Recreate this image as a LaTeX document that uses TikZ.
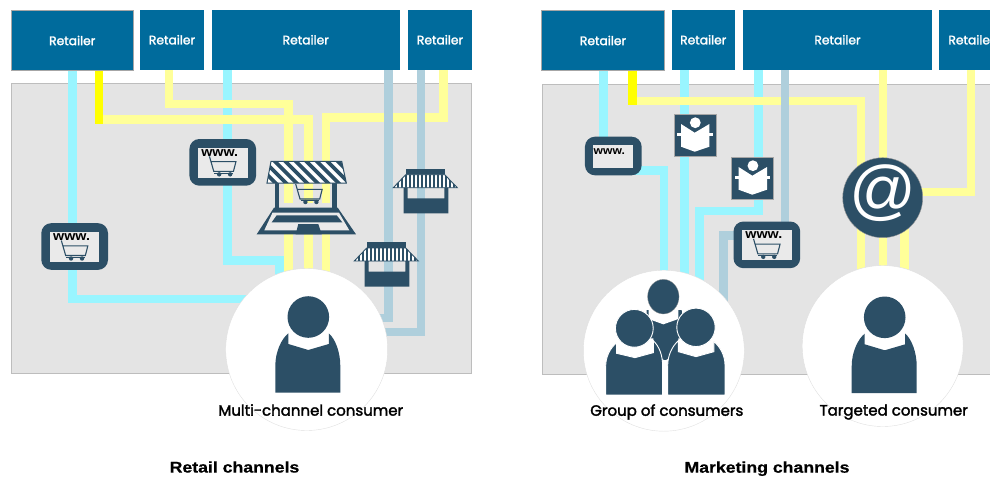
\documentclass[tikz,border=0pt]{standalone}
\usepackage{fontspec}
\setmainfont{Liberation Sans}
\newfontfamily\gothic[FakeBold=2]{Poppins}
\newfontfamily\titlefont[FakeStretch=1.14,FakeBold=0.6]{Liberation Sans Bold}
\newfontfamily\wwwfont[FakeStretch=1.1]{Liberation Sans Bold}
\definecolor{boxblue}{HTML}{006B9C}
\definecolor{darkslate}{HTML}{2C4F66}
\definecolor{panelgray}{HTML}{E4E4E4}
\definecolor{panelline}{HTML}{BDBDBD}
\definecolor{wcyan}{HTML}{99F5FF}
\definecolor{wyellow}{HTML}{FFFF99}
\definecolor{wbright}{HTML}{FFFF00}
\definecolor{wblue}{HTML}{AFCFDC}
\definecolor{screenfill}{HTML}{EAEAEA}
\pgfdeclarelayer{wires}
\pgfsetlayers{wires,main}
\tikzset{
  retailer/.style={fill=boxblue,text=white,inner sep=0,outer sep=0,font=\gothic\fontsize{12.3}{14}\selectfont},
  panel/.style={fill=panelgray,draw=panelline,line width=1pt},
  wirecyan/.style={draw=wcyan,line width=8.5pt},
  wireyellow/.style={draw=wyellow,line width=8.5pt},
  wirebright/.style={draw=wbright,line width=8.5pt},
  wireblue/.style={draw=wblue,line width=8.5pt},
  consumer/.style={circle,fill=white,draw=black!12,line width=.4pt,inner sep=0,outer sep=0},
  iconframe/.style={fill=darkslate,rounded corners=10pt,inner sep=0,outer sep=0},
  wwwtext/.style={inner sep=0,outer sep=0,text=black,font=\wwwfont\fontsize{13}{13}\selectfont},
  caption/.style={inner sep=0,text=black,font=\gothic\fontsize{15}{17}\selectfont},
  title/.style={inner sep=0,text=black,font=\titlefont\fontsize{15.5}{17}\selectfont},
  bookbox/.style={fill=darkslate,draw=black!35,line width=.4pt,inner sep=0,outer sep=0,minimum size=42pt},
}
\newcommand{\cartfig}{%
  \draw[darkslate,line width=1.1pt] (0,0) -- (4.3,15) -- (24,15) -- (26.5,5.3) -- (2,5.3);
  \draw[darkslate,line width=.8pt] (4.8,16.6) -- (23.6,16.6);
  \fill[darkslate] (9.7,18) circle[radius=2.2pt] (20.7,18) circle[radius=2.2pt];
}
\newcommand{\wwwicon}[3]{%
  \node[iconframe,minimum width=66.7pt,minimum height=46.7pt] (#1) at (#2,#3) {};
  \begin{scope}[shift={(#2,#3)}]
    \fill[screenfill] (-24.75,-14.85) rectangle (24.75,15.15);
    \node[wwwtext] (#1t) at (-3,-9.5) {www.};
    \begin{scope}[shift={(-13.3,-6)}]\cartfig\end{scope}
  \end{scope}%
}
\newcommand{\personfig}[2]{%
  \begin{scope}[shift={(#1,#2)}]
    \fill[darkslate] (-33,75.7) -- (-33,49) .. controls (-33,35) and (-27,22) .. (-20,16.3)
      -- (-20,27) -- (0,33) -- (20.5,27) -- (20.5,16.3) .. controls (27,22) and (32,35) .. (32,49)
      -- (32,75.7) -- cycle;
    \fill[darkslate] (0,0) circle[radius=20.8pt];
  \end{scope}%
}
\newcommand{\stallfig}[2]{%
  \begin{scope}[shift={(#1,#2)}]
    \fill[darkslate] (405.7,168.7) rectangle (444.7,175);
    \begin{scope}
      \clip (405.7,174.7) -- (444.7,174.7) -- (457.3,187.7) -- (393.3,187.7) -- cycle;
      \fill[white] (393,174) rectangle (458,188);
      \foreach \sx in {393.3,397.3,...,458}{\fill[darkslate] (\sx,174) rectangle ++(1.9,14);}
    \end{scope}
    \draw[darkslate,line width=.9pt] (405.7,174.7) -- (444.7,174.7) -- (457.3,187.7) -- (393.3,187.7) -- cycle;
    \fill[darkslate,even odd rule] (403.7,187.7) rectangle (448.3,213.3) (407.7,187.7) rectangle (444.3,198.3);
  \end{scope}%
}
\newcommand{\bookfig}[3]{%
  \node[bookbox] (#1) at (#2,#3) {};
  \begin{scope}[shift={(#2,#3)}]
    \fill[white] (.6,-12.3) circle[radius=5.4pt];
    \fill[white] (-13.7,-11) -- (0,-2.3) -- (14.7,-11) -- (14.7,11.7) -- (0,16.7) -- (-13.7,11.7) -- cycle;
    \fill[white] (-17.3,-2.2) rectangle (18,.9);
  \end{scope}%
}
\begin{document}
\begin{tikzpicture}[x=1pt,y=-1pt]
\useasboundingbox (0,0) rectangle (990,477);
% retailers, left
\node[retailer,minimum width=122.5pt,minimum height=60pt,draw=black!35,line width=.4pt] (la) at (72.25,40.5) {Retailer};
\node[retailer,minimum width=64pt,minimum height=59.5pt] (lb) at (172,39.75) {Retailer};
\node[retailer,minimum width=188.5pt,minimum height=59.5pt] (lc) at (305.75,39.75) {Retailer};
\node[retailer,minimum width=64pt,minimum height=59.5pt] (ld) at (440,39.75) {Retailer};
% retailers, right
\node[retailer,minimum width=123pt,minimum height=60pt,draw=black!35,line width=.4pt] (ra) at (603,40.5) {Retailer};
\node[retailer,minimum width=63.5pt,minimum height=59.5pt] (rb) at (703.25,39.75) {Retailer};
\node[retailer,minimum width=189pt,minimum height=59.5pt] (rc) at (837.5,39.75) {Retailer};
\node[retailer,minimum width=65pt,minimum height=59.5pt] (rd) at (971.5,39.75) {Retailer};
% junction points under icons and circles
\coordinate (e1) at (250,299);
\coordinate (b1) at (99,119.5);
\coordinate (e2) at (308.7,300);
\coordinate (b2) at (169,104);
\coordinate (e3) at (288.7,300);
\coordinate (b3) at (227.5,260.7);
\coordinate (e4) at (279.5,290);
\coordinate (b5) at (443.3,117.5);
\coordinate (e5) at (325.8,300);
\coordinate (e6) at (375,318);
\coordinate (e7) at (375,332);
\coordinate (e8) at (603.5,150);
\coordinate (b9) at (625,170.3);
\coordinate (e9) at (664,290);
\coordinate (b10) at (632.5,100.8);
\coordinate (e10) at (860.8,300);
\coordinate (e11) at (684.5,300);
\coordinate (b12) at (758.7,210.8);
\coordinate (e12) at (699.5,300);
\coordinate (e13) at (784.8,240);
\coordinate (b14) at (750,235.5);
\coordinate (e14) at (723.7,310);
\coordinate (e15) at (883,300);
\coordinate (b16) at (971,192);
\coordinate (e16) at (900,192);
\coordinate (s17) at (904.5,215);
\coordinate (e17) at (904.5,300);
% icons
\wwwicon{wa}{222.75}{162.35}
\wwwicon{wb}{74.65}{246.5}
\wwwicon{wd}{766.85}{244.85}
\node[iconframe,minimum width=56.7pt,minimum height=38.6pt] (wc) at (613.3,156) {};
\fill[screenfill] (593.3,145) rectangle (633.3,167.7);
\node[wwwtext,font=\wwwfont\fontsize{11}{11}\selectfont] (wct) at (609.3,152) {www.};
\bookfig{ba}{694.7}{135}
\bookfig{bb}{752.3}{178}
% laptop storefront
\fill[panelgray] (279,203.3) rectangle (332.3,208);
\fill[darkslate] (275,183) rectangle (279,210);
\fill[darkslate] (332.3,183) rectangle (336.7,210);
\fill[darkslate] (274,207.7) -- (337.7,207.7) -- (356,234.3) -- (256.7,234.3) -- cycle;
\fill[screenfill] (272.5,212.7) -- (339,212.7) -- (349.3,230.3) -- (264.3,230.3) -- cycle;
\fill[darkslate] (276.7,215.3) -- (336.7,215.3) -- (342.3,222.3) -- (271.7,222.3) -- cycle;
\fill[darkslate] (298.3,224) -- (318.3,224) -- (321.7,234.3) -- (295.7,234.3) -- cycle;
\begin{scope}
  \clip (271,161.3) -- (341.7,161.3) -- (346.3,183) -- (267,183) -- cycle;
  \fill[white] (260,160) rectangle (350,185);
  \foreach \sx in {240,250.5,...,350}{\draw[darkslate,line width=3.6pt] (\sx,158) -- ++(28,28);}
\end{scope}
\draw[darkslate,line width=1pt] (271,161.3) -- (341.7,161.3) -- (346.3,183) -- (267,183) -- cycle;
\begin{scope}[shift={(295.7,184)}]\cartfig\end{scope}
\stallfig{0}{0}
\stallfig{-39}{73.3}
% at sign
\node[circle,fill=darkslate,draw=black!40,line width=.4pt,minimum size=80pt,inner sep=0,outer sep=0] (mail) at (882.7,197.7) {};
\node[inner sep=0,text=white,font=\fontsize{66}{66}\selectfont] (mailt) at (883.3,193) {@};
% consumers
\node[consumer,minimum size=162pt] (cl) at (306.7,349.5) {};
\node[consumer,minimum size=161pt] (cg) at (663.8,350.7) {};
\node[consumer,minimum size=161pt] (ct) at (882.7,346) {};
\personfig{308.3}{317}
\personfig{884.7}{317.3}
% group figure
\begin{scope}[shift={(590,270)},x=.3333pt,y=-.3333pt]
  \fill[darkslate] (170,120) -- (275,120) -- (285,230) -- (228,270) -- (222,270) -- (165,230) -- cycle;
  \fill[white] (176,115) -- (176,147) -- (220,163) -- (265,147) -- (265,115) -- cycle;
  \fill[darkslate,draw=black!40,line width=.3pt] (220,80) ellipse[x radius=15.7pt,y radius=17.3pt];
  \fill[white] (80,205) -- (80,250) -- (135,263) -- (190,248) -- (190,205) -- cycle;
  \fill[white] (372,205) -- (372,245) -- (318,260) -- (265,245) -- (265,205) -- cycle;
  \filldraw[fill=darkslate,draw=white,line width=.9pt] (47,375) -- (47,290) .. controls (47,260) and (60,235) .. (80,218)
    -- (80,250) -- (135,263) -- (190,248) -- (190,212) .. controls (208,230) and (218,255) .. (218,290) -- (218,375) -- cycle;
  \filldraw[fill=darkslate,draw=white,line width=.9pt] (405,375) -- (405,285) .. controls (405,258) and (392,232) .. (372,215)
    -- (372,245) -- (318,260) -- (265,245) -- (265,212) .. controls (246,230) and (233,255) .. (233,290) -- (233,375) -- cycle;
  \filldraw[fill=darkslate,draw=white,line width=.9pt] (133,175) circle[radius=18.9pt];
  \filldraw[fill=darkslate,draw=white,line width=.9pt] (318,172) circle[radius=19.2pt];
\end{scope}
% captions
\node[caption] (tl) at (310.8,410) {Multi-channel consumer};
\node[caption] (tg) at (666.8,412) {Group of consumers};
\node[caption] (tt) at (893.7,412) {Targeted consumer};
\node[title] (hl) at (234.5,467) {Retail channels};
\node[title] (hr) at (767,468.7) {Marketing channels};
% panels and connectors, below everything else
\begin{pgfonlayer}{wires}
\draw[panel] (11,83.5) rectangle (471.5,373.5);
\draw[panel] (542.5,84.5) rectangle (1000,374.3);
% left: cyan
\draw[wirecyan] ([xshift=61.7pt]la.south west) |- (e1);
\draw[wirecyan] ([xshift=16pt]lc.south west) |- (b3) -| (e4);
% left: yellow
\draw[wireyellow] (b1) -| (e2);
\draw[wirebright] ([xshift=88pt]la.south west) -- ++(0,53.25);
\draw[wireyellow] ([xshift=29pt]lb.south west) |- (b2) -| (e3);
\draw[wireyellow] ([xshift=35.3pt]ld.south west) |- (b5) -| (e5);
% left: blue
\draw[wireblue] ([xshift=177.2pt]lc.south west) |- (e6);
\draw[wireblue] ([xshift=13pt]ld.south west) |- (e7);
% right: cyan
\draw[wirecyan] ([xshift=62pt]ra.south west) -- (e8);
\draw[wirecyan] (b9) -| (e9);
\draw[wirecyan] ([xshift=13pt]rb.south west) -- (e11);
\draw[wirecyan] ([xshift=15.7pt]rc.south west) |- (b12) -| (e12);
% right: yellow
\draw[wireyellow] (b10) -| (e10);
\draw[wirebright] ([xshift=91pt]ra.south west) -- ++(0,34.5);
\draw[wireyellow] ([xshift=140pt]rc.south west) -- (e15);
\draw[wireyellow] ([xshift=32pt]rd.south west) |- (e16);
\draw[wireyellow] (s17) -- (e17);
% right: blue
\draw[wireblue] ([xshift=41.8pt]rc.south west) -- (e13);
\draw[wireblue] (b14) -| (e14);
\end{pgfonlayer}
\end{tikzpicture}
\end{document}
